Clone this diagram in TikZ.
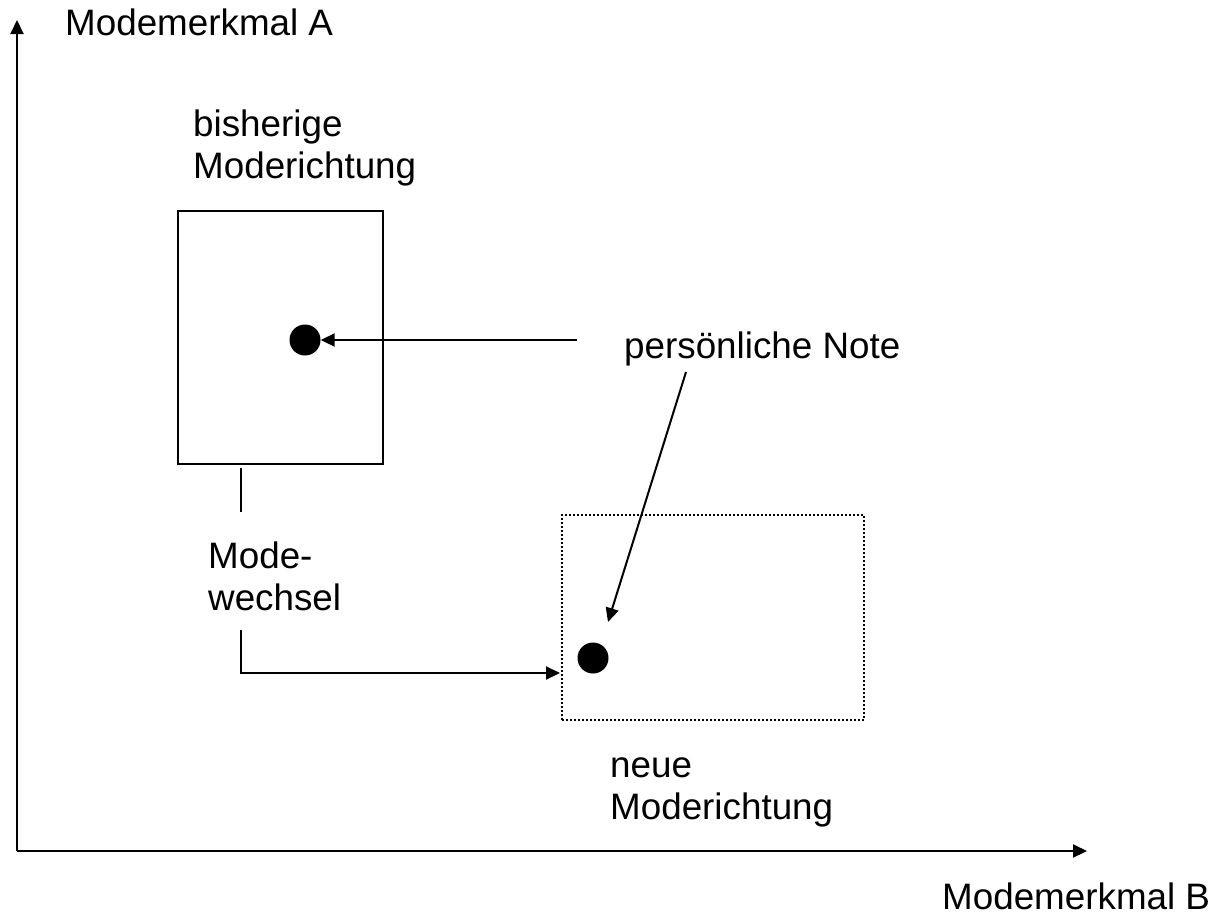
\documentclass[tikz,border=0pt]{standalone}
\usepackage{fontspec}
\setmainfont{Liberation Sans}
\usetikzlibrary{arrows.meta}
\tikzset{
  lbl/.style={inner sep=0pt, anchor=base west, align=left, font=\fontsize{36.8}{42}\selectfont},
  ln/.style={line width=2pt},
  arr/.style={line width=2pt, -{Triangle[length=14pt,width=13pt]}},
  dot/.style={circle, fill=black, minimum size=31pt, inner sep=0pt},
}
\begin{document}
\begin{tikzpicture}[x=1pt,y=-1pt]
\useasboundingbox (0,0) rectangle (1218,919);
% axes
\coordinate (o) at (17,851);
\coordinate (ytop) at (17,20);
\coordinate (xend) at (1087,851);
\draw[arr] (o) -- (ytop);
\draw[arr] (o) -- (xend);
\node[lbl] (la) at (65,35) {Modemerkmal A};
\node[lbl] (lb) at (942,909) {Modemerkmal B};
% old box
\node[draw, line width=2pt, minimum width=205pt, minimum height=253pt, inner sep=0pt] (oldbox) at (280.5,337.5) {};
\node[lbl] (bish) at (193,178) {bisherige\\Moderichtung};
\node[dot] (d1) at (305,340) {};
% new box
\node[draw, line width=2pt, dotted, minimum width=302pt, minimum height=205pt, inner sep=0pt] (newbox) at (713,617.5) {};
\node[dot] (d2) at (593,658) {};
\node[lbl] (neue) at (610,819) {neue\\Moderichtung};
% personal note
\node[lbl] (pn) at (624,358) {persönliche Note};
\coordinate (pa) at (577,340);
\coordinate (pb) at (686,372);
\coordinate (pbend) at (608,622);
\draw[arr] (pa) -- (d1.east);
\draw[arr] (pb) -- (pbend);
% mode change
\node[lbl] (mw) at (208,610) {Mode-\\wechsel};
\coordinate (t1) at (241,468);
\coordinate (t2) at (241,512);
\coordinate (c1) at (241,630);
\coordinate (c2) at (241,673);
\coordinate (c3) at (560,673);
\draw[ln] (t1) -- (t2);
\draw[arr] (c1) -- (c2) -- (c3);
\end{tikzpicture}
\end{document}
